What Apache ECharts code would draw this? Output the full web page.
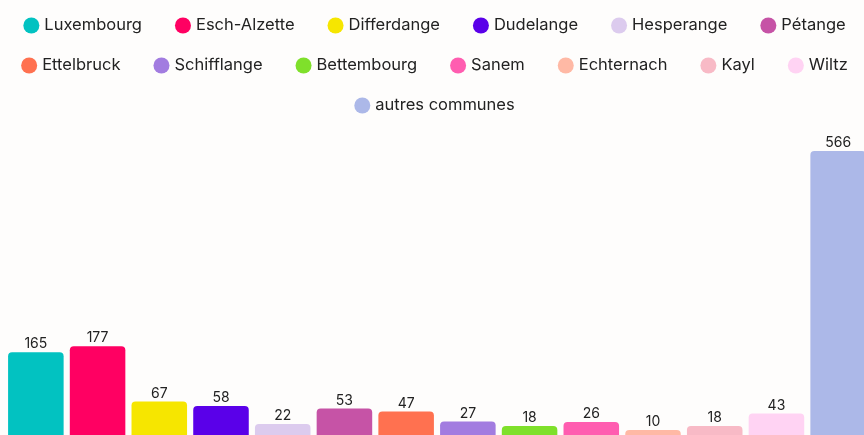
<!DOCTYPE html>
<html>
<head>
<meta charset="utf-8">
<script src="https://cdn.jsdelivr.net/npm/echarts@6/dist/echarts.min.js"></script>
<style>
  html, body { margin: 0; padding: 0; background: #fefdfc; overflow: hidden; }
  #chart { width: 869px; height: 435px; }
</style>
</head>
<body>
<div id="chart"></div>
<script>
const communes = ['Luxembourg', 'Esch-Alzette', 'Differdange', 'Dudelange', 'Hesperange', 'Pétange',
  'Ettelbruck', 'Schifflange', 'Bettembourg', 'Sanem', 'Echternach', 'Kayl', 'Wiltz', 'autres communes'];
const valeurs = [165, 177, 67, 58, 22, 53, 47, 27, 18, 26, 10, 18, 43, 566];
const couleurs = ['#02c2c1', '#ff0062', '#f6e600', '#5a00e9', '#dccbee', '#c653a6',
  '#ff7150', '#a27ce0', '#7fe02b', '#ff5db0', '#ffb9a5', '#f8bac6', '#ffd3f3', '#acb8e8'];

// legend rows as in the picture
const rows = [communes.slice(0, 6), communes.slice(6, 13), communes.slice(13)];

function draw_chart() {
  const chart = echarts.init(document.getElementById('chart'));
  const font = 'Inter';

  const series = communes.map((name, i) => ({
    name: name,
    type: 'bar',
    stack: 'all',
    barWidth: '90%',
    data: communes.map((c, j) => (j === i ? valeurs[i] : null)),
    itemStyle: { color: couleurs[i], borderRadius: [4, 4, 0, 0] },
    label: {
      show: true,
      position: 'top',
      distance: 1,
      color: '#222',
      fontSize: 14,
      fontFamily: font
    }
  }));

  chart.setOption({
    backgroundColor: '#fefdfc',
    // centred on the visible 864px, not on the wider div
    legend: rows.map((row, k) => ({
      data: row,
      top: 12 + k * 40,
      left: 'center',
      right: 5,
      icon: 'circle',
      itemWidth: 16,
      itemHeight: 16,
      itemGap: 33,
      textStyle: { color: '#222', fontSize: 16.5, fontFamily: font }
    })),
    grid: { left: 5, right: 0, top: 151, bottom: 0, containLabel: false },
    xAxis: {
      type: 'category',
      data: communes,
      show: false
    },
    yAxis: {
      type: 'value',
      min: 0,
      max: 566,
      show: false
    },
    series: series
  });
}
draw_chart();
</script>
</body>
</html>
